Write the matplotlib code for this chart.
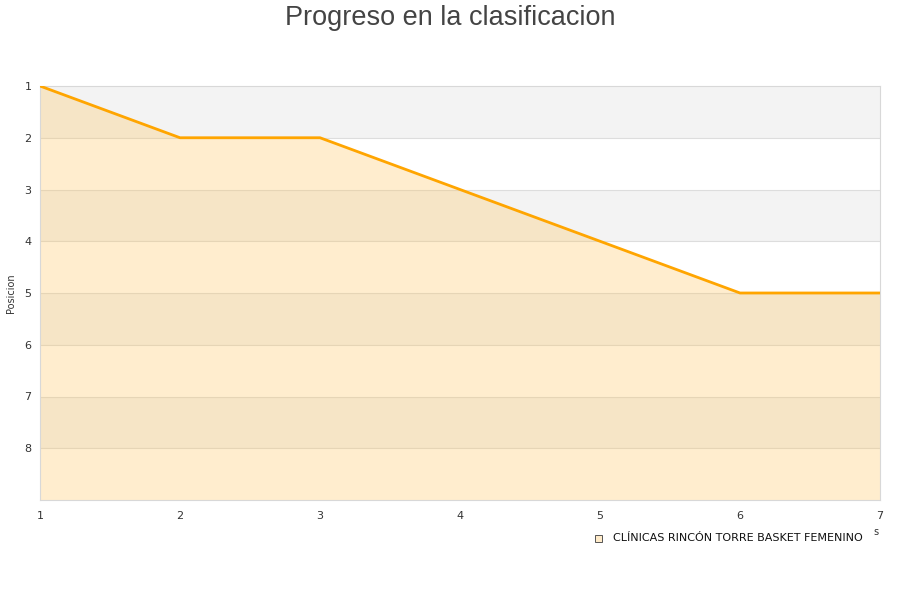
import numpy as np
import matplotlib
matplotlib.use("Agg")
import matplotlib.pyplot as plt

# data
jornadas = [1, 2, 3, 4, 5, 6, 7]
posiciones = [1, 2, 2, 3, 4, 5, 5]
equipo = "CLÍNICAS RINCÓN TORRE BASKET FEMENINO"
y_ticks = [1, 2, 3, 4, 5, 6, 7, 8]
n_equipos = 9

fig = plt.figure(figsize=(9, 6), dpi=100)
ax = fig.add_axes([40 / 900, 100 / 600, 840 / 900, 414 / 600])

# alternating bands
for i in range(1, n_equipos):
    color = "#f3f3f3" if i % 2 == 1 else "#ffffff"
    ax.axhspan(i, i + 1, color=color, zorder=0, lw=0)
for i in range(2, n_equipos):
    ax.axhline(i, color="#dddddd", lw=0.8, zorder=1)

ax.fill_between(jornadas, posiciones, n_equipos, color="#ffc04d", alpha=0.27,
                lw=0, zorder=2)
ax.plot(jornadas, posiciones, color="#ffa500", lw=2, zorder=3)

ax.set_xlim(1, 7)
ax.set_ylim(n_equipos, 1)
ax.set_yticks(y_ticks)
ax.set_xticks(jornadas)
ax.tick_params(length=0, labelsize=8, colors="#333333", pad=8)
ax.tick_params(axis="y", pad=6)
for s in ax.spines.values():
    s.set_color("#d8d8d8")
    s.set_linewidth(0.8)

fig.text(0.5, 1 - 18 / 600, "Progreso en la clasificacion", ha="center",
         va="center", fontsize=19.5, color="#444444", family="Liberation Sans")
fig.text(11 / 900, 1 - 293 / 600, "Posicion", rotation=90, ha="center",
         va="center", fontsize=7, color="#333333")

# legend
fig.patches.append(plt.Rectangle((595 / 900, 1 - 542 / 600), 7 / 900, 7 / 600,
                                 transform=fig.transFigure, facecolor="#ffebc9",
                                 edgecolor="#555555", lw=0.7))
fig.text(613 / 900, 1 - 538 / 600, equipo, ha="left", va="center",
         fontsize=8, color="#111111")
fig.text(876 / 900, 1 - 532 / 600, "s", ha="center", va="center",
         fontsize=7, color="#333333")

fig.savefig("out.png", dpi=100)
